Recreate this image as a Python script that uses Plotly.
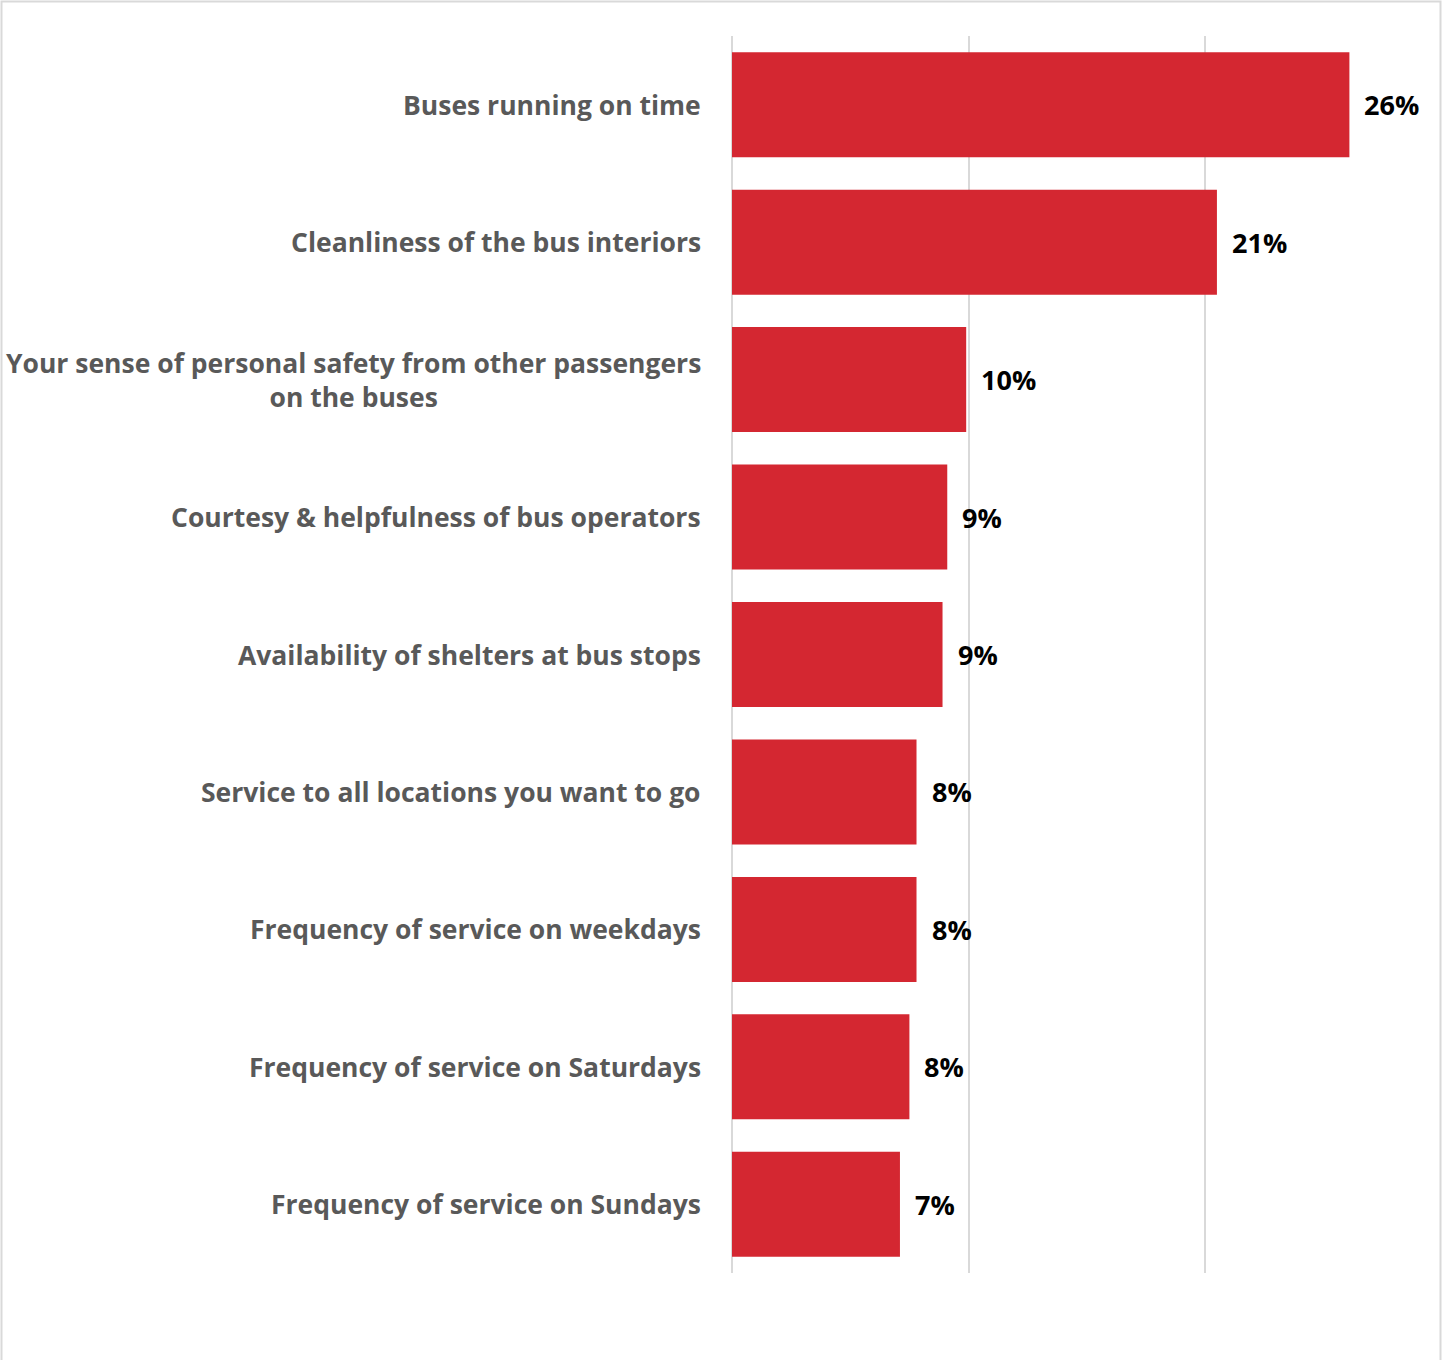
import math
import plotly.graph_objects as go

# Share of respondents naming each service attribute (percent)
categories = [
    "Buses running on time",
    "Cleanliness of the bus interiors",
    "Your sense of personal safety from other passengers<br>on the buses",
    "Courtesy & helpfulness of bus operators",
    "Availability of shelters at bus stops",
    "Service to all locations you want to go",
    "Frequency of service on weekdays",
    "Frequency of service on Saturdays",
    "Frequency of service on Sundays",
]
values = [26.1, 20.5, 9.9, 9.1, 8.9, 7.8, 7.8, 7.5, 7.1]
x_ticks = [0, 10, 20]

W, H = 1442, 1360
M_L, M_R, M_T, M_B = 732, 24, 36, 87
BAR_RED = "#D42731"
LABEL_GREY = "#595959"
GRID = "#D9D9D9"
FONT = "'Open Sans', Lato, Arial, sans-serif"

fig = go.Figure(
    go.Bar(
        x=values,
        y=categories,
        orientation="h",
        marker=dict(color=BAR_RED, line=dict(width=0)),
        hoverinfo="skip",
    )
)

annotations = []
# value labels to the right of each bar
for cat, v in zip(categories, values):
    annotations.append(dict(
        x=v, y=cat, xref="x", yref="y",
        text=f"{math.floor(v + 0.5)}%",
        showarrow=False, xanchor="left", yanchor="middle", xshift=13,
        font=dict(family=FONT, size=27, color="#000000", weight="bold"),
    ))
# category labels, centred line-by-line and right-aligned to the axis
for cat in categories:
    annotations.append(dict(
        x=0, y=cat, xref="paper", yref="y",
        text=cat, showarrow=False, xanchor="right", yanchor="middle",
        align="center", xshift=-29,
        font=dict(family=FONT, size=26.5, color=LABEL_GREY, weight="bold"),
    ))

pw = W - M_L - M_R
ph = H - M_T - M_B
fig.update_layout(
    width=W, height=H,
    margin=dict(l=M_L, r=M_R, t=M_T, b=M_B),
    paper_bgcolor="white", plot_bgcolor="white",
    bargap=0.236,
    showlegend=False,
    annotations=annotations,
    xaxis=dict(
        range=[0, 29], tickvals=x_ticks, showticklabels=False,
        showgrid=True, gridcolor=GRID, gridwidth=2,
        zeroline=True, zerolinecolor=GRID, zerolinewidth=2,
        showline=False, fixedrange=True,
    ),
    yaxis=dict(
        autorange="reversed", showticklabels=False, showgrid=False,
        zeroline=False, showline=False, fixedrange=True,
    ),
    shapes=[dict(
        type="rect", xref="paper", yref="paper", layer="above",
        x0=(1.5 - M_L) / pw, x1=(W - 1.5 - M_L) / pw,
        y0=(H - M_B - (H + 10)) / ph, y1=(H - M_B - 1.5) / ph,
        line=dict(color=GRID, width=2), fillcolor="rgba(0,0,0,0)",
    )],
)

fig.write_html("out.html")
